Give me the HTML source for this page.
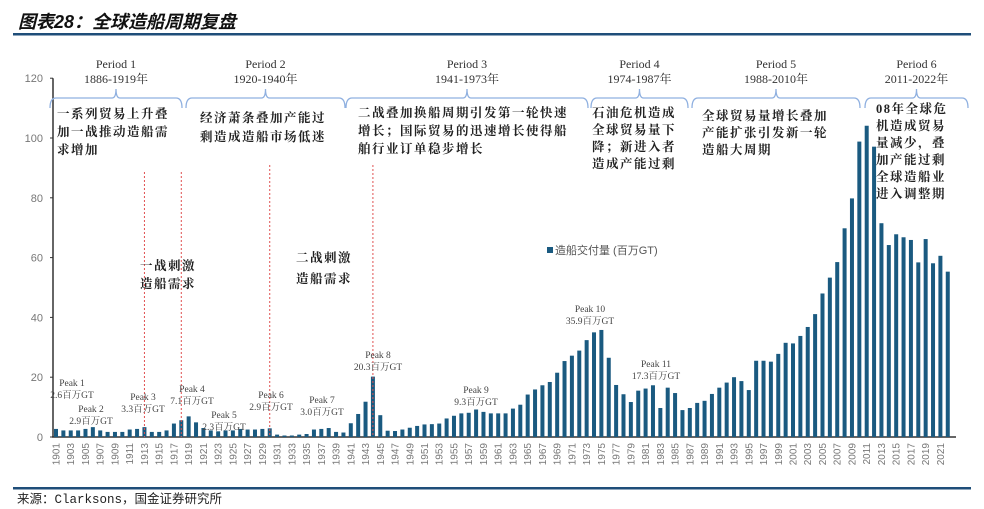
<!DOCTYPE html>
<html><head><meta charset="utf-8"><style>
body{margin:0;background:#fff;width:984px;height:509px;overflow:hidden;font-family:"Liberation Sans","Noto Sans CJK SC",sans-serif}
svg{display:block}
.cj{font-family:"Liberation Serif","Noto Serif CJK SC",serif;font-size:12.5px;fill:#222;font-weight:bold;letter-spacing:1.5px}
.pl{font-family:"Liberation Serif","Noto Serif CJK SC",serif;font-size:12px;fill:#333;text-anchor:middle}
.pk{font-family:"Liberation Serif","Noto Serif CJK SC",serif;font-size:9.5px;fill:#444;text-anchor:middle}
.br{fill:none;stroke:#8fb0e0;stroke-width:1.3}
</style></head><body>
<svg id="c" width="984" height="509" xmlns="http://www.w3.org/2000/svg">
<text x="18" y="28" font-size="18" font-style="italic" font-weight="bold" fill="#111" font-family="Liberation Sans,'Noto Sans CJK SC',sans-serif">图表28：全球造船周期复盘</text>
<rect x="13" y="33" width="958" height="2.5" fill="#1f4e79"/>
<rect x="13" y="487" width="958" height="2.5" fill="#1f4e79"/>
<text x="17" y="503" font-size="12.5" fill="#222" font-family="Liberation Mono,'Noto Sans CJK SC',monospace">来源：Clarksons，国金证券研究所</text>
<g id="axes"></g><g id="bars"></g><g id="ann"></g>
</svg>
<script>
const years=[];for(let y=1901;y<=2022;y++)years.push(y);
const values=[2.7,2.2,2.2,2.2,2.7,3.3,2.2,1.7,1.7,1.7,2.5,2.7,3.3,1.7,1.7,2.2,4.5,5.6,6.9,4.9,
3.0,2.2,1.9,2.2,2.2,2.7,2.5,2.5,2.7,2.9,0.8,0.5,0.5,0.8,1.0,2.5,2.7,3.0,1.7,1.5,
4.6,7.7,11.8,20.2,7.3,2.1,2.0,2.5,3.1,3.7,4.2,4.3,4.5,6.2,7.1,7.9,8.1,9.2,8.4,7.9,
7.9,7.9,9.5,10.8,14.2,15.9,17.3,18.4,21.5,25.4,27.2,28.9,32.4,35.0,35.8,26.5,17.4,14.3,11.7,15.5,
16.2,17.3,9.7,16.5,14.7,9.0,9.7,11.4,12.1,14.4,16.5,18.2,20.0,18.7,15.7,25.5,25.5,25.2,27.8,31.5,
31.3,33.8,36.8,41.1,48.0,53.3,58.5,69.8,79.8,98.8,104.1,97.1,71.5,64.2,67.8,66.8,65.9,58.4,66.2,58.1,
60.6,55.3];
const yTicks=[0,20,40,60,80,100,120];
const NS="http://www.w3.org/2000/svg";
const x0=56,step=7.37,yb=437,ppu=2.99;
const X=i=>x0+i*step, Y=v=>yb-v*ppu;
function mk(t,a,p){const e=document.createElementNS(NS,t);for(const k in a)e.setAttribute(k,a[k]);p.appendChild(e);return e;}
const ax=document.getElementById('axes'),bg=document.getElementById('bars'),an=document.getElementById('ann');
const yl=mk('line',{x1:53,x2:53,y1:Y(120),y2:yb,stroke:'#333','stroke-width':1.5},ax);


const xl=mk('line',{x1:52,x2:956,y1:yb,y2:yb,stroke:'#333','stroke-width':1.5},ax);


yTicks.forEach(v=>{
 mk('line',{x1:50,x2:53,y1:Y(v),y2:Y(v),stroke:'#333'},ax);
 const t=mk('text',{x:43,y:Y(v)+4,'text-anchor':'end','font-size':11,fill:'#777'},ax);t.textContent=v;
 
 
});
years.forEach((yr,i)=>{
 const r=mk('rect',{x:X(i)-2,y:Y(values[i]),width:4,height:values[i]*ppu,fill:'#1a5a80'},bg);
 
 
 if(yr%2===1){const t=mk('text',{transform:`translate(${X(i)+3.5},443) rotate(-90)`,'text-anchor':'end','font-size':10,fill:'#777'},ax);t.textContent=yr;
 
 }
});
[[1913,172],[1918,172],[1930,165],[1944,165]].forEach(([yr,top])=>{
 const l=mk('line',{x1:X(yr-1901),x2:X(yr-1901),y1:top,y2:yb,stroke:'#e05050','stroke-dasharray':'2,2','stroke-width':1},an);
 
 
});
const periods=[[50,182,'Period 1','1886-1919年'],[186,345,'Period 2','1920-1940年'],[346,588,'Period 3','1941-1973年'],[591,688,'Period 4','1974-1987年'],[692,860,'Period 5','1988-2010年'],[865,968,'Period 6','2011-2022年']];
periods.forEach(([a,b,n,d])=>{
 const m=(a+b)/2;
 const p=mk('path',{d:`M${a},108 Q${a},98 ${a+6},98 L${m-4},98 Q${m},98 ${m},89 Q${m},98 ${m+4},98 L${b-6},98 Q${b},98 ${b},108`,class:'br'},an);
 
 
 const t1=mk('text',{x:m,y:68,class:'pl'},an);t1.textContent=n;
 
 
 const t2=mk('text',{x:m,y:83,class:'pl'},an);t2.textContent=d;
 
 
});
const notes=[[57,118,18,['一系列贸易上升叠','加一战推动造船需','求增加']],[200,122,19,['经济萧条叠加产能过','剩造成造船市场低迷']],[358,117,18,['二战叠加换船周期引发第一轮快速','增长；国际贸易的迅速增长使得船','舶行业订单稳步增长']],[592,117,17,['石油危机造成','全球贸易量下','降；新进入者','造成产能过剩']],[702,120,17,['全球贸易量增长叠加','产能扩张引发新一轮','造船大周期']],[876,113,17,['08年全球危','机造成贸易','量减少，叠','加产能过剩','全球造船业','进入调整期']],[140,270,18,['一战刺激','造船需求']],[296,262,21,['二战刺激','造船需求']]];
notes.forEach(([x,y,lh,lines])=>{lines.forEach((s,k)=>{const t=mk('text',{x:x,y:y+k*lh,class:'cj'},an);t.textContent=s;
 
 });});
const peaks=[[72,386,'Peak 1','2.6百万GT'],[91,412,'Peak 2','2.9百万GT'],[143,400,'Peak 3','3.3百万GT'],[192,392,'Peak 4','7.1百万GT'],[224,418,'Peak 5','2.3百万GT'],[271,398,'Peak 6','2.9百万GT'],[322,403,'Peak 7','3.0百万GT'],[378,358,'Peak 8','20.3百万GT'],[476,393,'Peak 9','9.3百万GT'],[590,312,'Peak 10','35.9百万GT'],[656,367,'Peak 11','17.3百万GT']];
peaks.forEach(([x,y,a,b])=>{const t=mk('text',{x:x,y:y,class:'pk'},an);t.textContent=a;
 
 
 const t2=mk('text',{x:x,y:y+12,class:'pk'},an);t2.textContent=b;
 
 });
const lg=mk('rect',{x:547,y:247,width:6,height:6,fill:'#1a5a80'},an);


const lt=mk('text',{x:555,y:254,'font-size':11,fill:'#555'},an);lt.textContent='造船交付量 (百万GT)';


</script>
</body></html>
